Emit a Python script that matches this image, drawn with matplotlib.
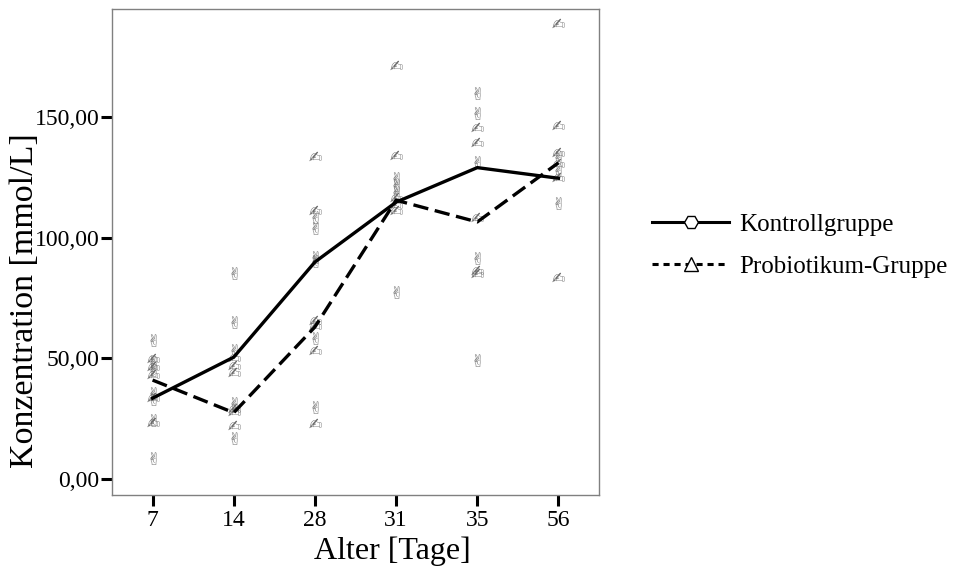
"""
Konzentration nach Alter: Kontrollgruppe vs. Probiotikum-Gruppe
"""
import matplotlib
matplotlib.use("Agg")
import matplotlib.pyplot as plt
from matplotlib.lines import Line2D
from matplotlib.ticker import FuncFormatter

plt.rcParams["font.family"] = ["Liberation Serif", "DejaVu Serif"]
plt.rcParams["mathtext.fontset"] = "dejavusans"

# Daten
tage = ["7", "14", "28", "31", "35", "56"]
mittel_kontrolle = [33.5, 50.5, 89.9, 114.7, 129.0, 124.6]
mittel_probiotikum = [41.0, 27.5, 63.0, 115.5, 106.5, 131.0]

# Einzelwerte (je Tag)
einzel_kontrolle = [
    [57.6, 48.4, 45.0, 35.6, 33.0, 24.5, 8.7],
    [85.3, 65.0, 53.4, 31.5, 17.0],
    [108.5, 104.0, 92.0, 90.5, 58.4, 29.8],
    [124.6, 121.7, 118.8, 77.4],
    [159.8, 151.5, 131.3, 91.5, 49.3],
    [133.3, 128.0, 114.3],
]
einzel_probiotikum = [
    [50.0, 46.8, 43.5, 34.0, 23.6],
    [50.5, 47.2, 44.3, 29.4, 28.0, 22.4],
    [134.0, 111.4, 65.8, 64.0, 53.4, 23.2],
    [171.4, 134.2, 116.8, 114.0, 111.4],
    [145.8, 139.5, 108.5, 86.5, 85.3],
    [188.8, 146.6, 135.4, 130.8, 125.0, 83.6],
]


def draw_chart():
    """
    Diagramm zeichnen
    """
    fig = plt.figure(figsize=(9.54, 5.78), dpi=100)
    ax = fig.add_axes([0.1174, 0.1436, 0.5105, 0.840])

    x = list(range(len(tage)))

    # Einzelwerte als Symbole
    for i in x:
        ax.plot([i] * len(einzel_kontrolle[i]), einzel_kontrolle[i],
                linestyle="none", marker="$✌$", markersize=9,
                color="#6a6a6a", markeredgewidth=0, zorder=2)
        ax.plot([i] * len(einzel_probiotikum[i]), einzel_probiotikum[i],
                linestyle="none", marker="$✍$", markersize=9,
                color="#6a6a6a", markeredgewidth=0, zorder=2)

    # Mittelwerte
    ax.plot(x, mittel_kontrolle, color="black", linewidth=2.4, zorder=3)
    ax.plot(x, mittel_probiotikum, color="black", linewidth=2.4,
            dashes=(4.6, 2.0), zorder=3)

    ax.set_xlim(-0.5, len(tage) - 0.5)
    ax.set_ylim(-6.6, 194.5)
    ax.set_xticks(x)
    ax.set_xticklabels(tage)
    ax.set_yticks([0, 50, 100, 150])
    ax.yaxis.set_major_formatter(
        FuncFormatter(lambda v, p: f"{v:.2f}".replace(".", ",")))

    for s in ax.spines.values():
        s.set_color("#808080")
        s.set_linewidth(1.0)
    ax.tick_params(axis="both", direction="out", length=8, width=2.2,
                   color="black", labelsize=17, pad=3)
    ax.tick_params(axis="y", pad=1)

    ax.set_xlabel("Alter [Tage]", fontsize=23)
    ax.set_ylabel("Konzentration [mmol/L]", fontsize=24.5)
    ax.xaxis.set_label_coords(0.575, -0.085)
    ax.yaxis.set_label_coords(-0.148, 0.40)

    # Legende
    handles = [
        Line2D([], [], color="black", linewidth=2.2, marker="H",
               markersize=10, markerfacecolor="white",
               markeredgecolor="black", markeredgewidth=1.0),
        Line2D([], [], color="black", linewidth=2.2, dashes=(2.0, 1.6),
               marker="^", markersize=10, markerfacecolor="white",
               markeredgecolor="black", markeredgewidth=1.0),
    ]
    fig.legend(handles, ["Kontrollgruppe", "Probiotikum-Gruppe"],
               loc="center left", bbox_to_anchor=(0.6834, 0.575),
               frameon=False, fontsize=18, handlelength=3.1,
               handletextpad=0.4, labelspacing=0.8, borderpad=0,
               borderaxespad=0)

    fig.savefig("out.png", dpi=100)


def main():
    """
    Hauptfunktion
    """
    draw_chart()


if __name__ == "__main__":
    main()
